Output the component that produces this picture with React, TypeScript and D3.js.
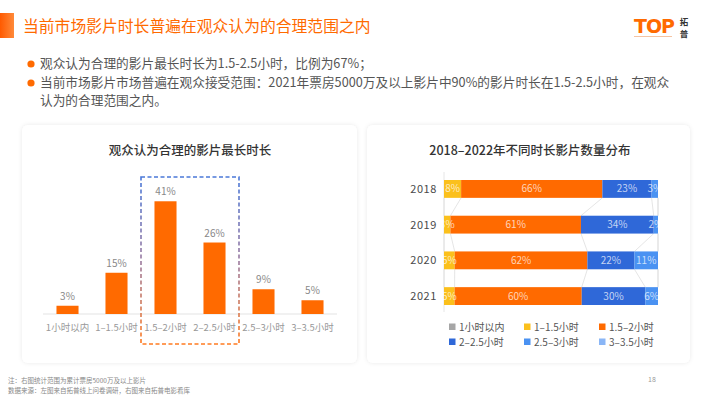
import React from 'react';
import * as d3 from 'd3';

const durationCats = ['1小时以内', '1–1.5小时', '1.5–2小时', '2–2.5小时', '2.5–3小时', '3–3.5小时'];
const acceptValues = [3, 15, 41, 26, 9, 5];

const years = ['2018', '2019', '2020', '2021'];
const seriesNames = ['1小时以内', '1–1.5小时', '1.5–2小时', '2–2.5小时', '2.5–3小时', '3–3.5小时'];
const under1h = [0, 0, 0, 0];
const h1to15 = [8, 3, 5, 5];
const h15to2 = [66, 61, 62, 60];
const h2to25 = [23, 34, 22, 30];
const h25to3 = [3, 2, 11, 6];
const h3to35 = [0, 0, 0, 0];
const seriesColors = ['#a6a6a6', '#fbc01c', '#ff6a00', '#2f68d8', '#4a92f2', '#8ab6f6'];

const FONT = '"Noto Sans CJK SC", "Noto Sans", sans-serif';
const ORANGE = '#ff6a00';

const bullets = [
  ['观众认为合理的影片最长时长为1.5-2.5小时，比例为67%；'],
  ['当前市场影片市场普遍在观众接受范围：2021年票房5000万及以上影片中90%的影片时长在1.5-2.5小时，在观众', '认为的合理范围之内。'],
];

const LeftChart = () => {
  const x = d3.scaleBand<string>().domain(durationCats).range([43, 337]).paddingInner(0.55).paddingOuter(0.275);
  const y = d3.scaleLinear().domain([0, (d3.max(acceptValues) as number) * 1.1]).range([314, 190]);
  const bw = x.bandwidth();
  const gap = (x.step() - bw) / 2;
  const bx0 = (x(durationCats[2]) as number) - gap;
  const bx1 = (x(durationCats[3]) as number) + bw + gap;
  return (
    <g>
      <text x={190} y={155} textAnchor="middle" fontSize={12.5} fill="#333" fontWeight={500}>观众认为合理的影片最长时长</text>
      <line x1={43} x2={337} y1={y(0)} y2={y(0)} stroke="#e3e3e3" />
      {acceptValues.map((v, i) => (
        <g key={i}>
          <rect x={x(durationCats[i])} y={y(v)} width={bw} height={y(0) - y(v)} fill={ORANGE} />
          <text x={(x(durationCats[i]) as number) + bw / 2} y={y(v) - 6} textAnchor="middle" fontSize={10} fill="#888">{v}%</text>
          <text x={(x(durationCats[i]) as number) + bw / 2} y={331} textAnchor="middle" fontSize={9.5} fill="#999">{durationCats[i]}</text>
        </g>
      ))}
      <rect x={bx0} y={177} width={bx1 - bx0} height={167} fill="none" stroke="url(#dashGrad)" strokeWidth={1.6} strokeDasharray="4 2.5" />
    </g>
  );
};

const RightChart = () => {
  const cols = [under1h, h1to15, h15to2, h2to25, h25to3, h3to35];
  const rows = years.map((yr, i) => {
    const r: any = { year: yr };
    seriesNames.forEach((s, k) => { r[s] = cols[k][i]; });
    return r;
  });
  const stacked = d3.stack<any>().keys(seriesNames).offset(d3.stackOffsetExpand)(rows);
  const x = d3.scaleLinear().domain([0, 1]).range([444, 658]);
  const y = d3.scaleBand<string>().domain(years).range([180, 305]).paddingInner(0.5).paddingOuter(0);
  const bh = y.bandwidth();
  const connectors: JSX.Element[] = [];
  stacked.forEach((s, k) => {
    for (let i = 0; i < years.length - 1; i++) {
      connectors.push(
        <line key={`c${k}-${i}`} x1={x(s[i][1])} y1={(y(years[i]) as number) + bh} x2={x(s[i + 1][1])} y2={y(years[i + 1]) as number} stroke="#dedede" strokeWidth={0.8} />
      );
    }
  });
  return (
    <g>
      <text x={530} y={155} textAnchor="middle" fontSize={12.5} fill="#333" fontWeight={500}>2018–2022年不同时长影片数量分布</text>
      <line x1={444} x2={444} y1={172} y2={312} stroke="#e6e6e6" />
      {connectors}
      {stacked.map((s, k) => (
        <g key={k}>
          {s.map((d, i) => (
            <rect key={i} x={x(d[0])} y={y(years[i])} width={Math.max(0, x(d[1]) - x(d[0]))} height={bh} fill={seriesColors[k]} />
          ))}
        </g>
      ))}
      {stacked.map((s, k) => (
        <g key={`l${k}`}>
          {s.map((d, i) => {
            const v = cols[k][i];
            if (!v) return null;
            return (
              <text key={i} x={(x(d[0]) + x(d[1])) / 2} y={(y(years[i]) as number) + bh / 2 + 3.5} textAnchor="middle" fontSize={10} fill="rgba(255,255,255,0.72)">{v}%</text>
            );
          })}
        </g>
      ))}
      {years.map(yr => (
        <text key={yr} x={437} y={(y(yr) as number) + bh / 2 + 4} textAnchor="end" fontSize={11} fill="#4a4a4a" letterSpacing={0.6}>{yr}</text>
      ))}
      {seriesNames.map((s, k) => {
        const lx = 449 + (k % 3) * 75;
        const ly = 327 + Math.floor(k / 3) * 15;
        return (
          <g key={s}>
            <rect x={lx} y={ly - 3.5} width={6.5} height={6.5} fill={seriesColors[k]} />
            <text x={lx + 10} y={ly + 3.5} fontSize={10} fill="#555">{s}</text>
          </g>
        );
      })}
    </g>
  );
};

export default function App() {
  return (
    <svg width={710} height={399} style={{ position: 'fixed', left: 0, top: 0, display: 'block', fontFamily: FONT }}>
      <defs>
        <filter id="shadow" x="-10%" y="-10%" width="120%" height="120%">
          <feDropShadow dx={0} dy={0} stdDeviation={2.2} floodColor="#000" floodOpacity={0.09} />
        </filter>
        <linearGradient id="barGrad" x1="0" x2="1" y1="0" y2="0">
          <stop offset="0" stopColor="#ff5a00" />
          <stop offset="1" stopColor="#ff8a3a" />
        </linearGradient>
        <linearGradient id="dashGrad" x1="0" x2="0" y1="0" y2="1">
          <stop offset="0" stopColor="#4a78d8" />
          <stop offset="0.5" stopColor="#9a7aa0" />
          <stop offset="1" stopColor="#ff7a20" />
        </linearGradient>
      </defs>
      <rect width={710} height={399} fill="#fff" />
      <rect x={0} y={13} width={14} height={25} fill="url(#barGrad)" />
      <text x={23} y={32} fontSize={15.8} fill={ORANGE}>当前市场影片时长普遍在观众认为的合理范围之内</text>
      <g>
        <text x={634} y={33} fontSize={19} fontWeight={700} fill={ORANGE} fontFamily="'DejaVu Sans', sans-serif" letterSpacing={-1}>TOP</text>
        <line x1={634} x2={672} y1={36.5} y2={36.5} stroke="#f3b58c" strokeWidth={0.8} />
        <text x={684} y={25} fontSize={8.5} fill="#333" fontWeight={700} textAnchor="middle">拓</text>
        <text x={684} y={37} fontSize={8.5} fill="#333" fontWeight={700} textAnchor="middle">普</text>
      </g>
      {bullets.map((lines, i) => (
        <g key={i}>
          <circle cx={31} cy={i === 0 ? 64 : 83} r={3.6} fill={ORANGE} />
          {lines.map((t, j) => (
            <text key={j} x={40} y={(i === 0 ? 68 : 87) + j * 18} fontSize={12.7} fill="#555">{t}</text>
          ))}
        </g>
      ))}
      <rect x={22} y={125} width={335} height={238} rx={6} fill="#fff" filter="url(#shadow)" />
      <rect x={367} y={125} width={323} height={238} rx={6} fill="#fff" filter="url(#shadow)" />
      <LeftChart />
      <RightChart />
      <text x={8} y={383} fontSize={6.5} fill="#888">注：右图统计范围为累计票房5000万及以上影片</text>
      <text x={8} y={393} fontSize={6.5} fill="#888">数据来源：左图来自拓普线上问卷调研，右图来自拓普电影看库</text>
      <text x={648} y={382} fontSize={7} fill="#999">18</text>
    </svg>
  );
}
